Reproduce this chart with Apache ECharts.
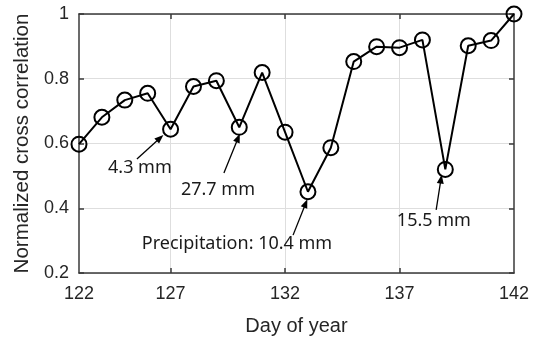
<!DOCTYPE html>
<html>
<head>
<meta charset="utf-8">
<script src="https://cdn.jsdelivr.net/npm/echarts@6/dist/echarts.min.js"></script>
<style>
  html, body { margin: 0; padding: 0; background: #fff; }
  #chart { width: 535px; height: 341px; }
</style>
</head>
<body>
<div id="chart"></div>
<script>
// Daily normalized cross correlation, day of year 123-142
const days = [123, 124, 125, 126, 127, 128, 129, 130, 131, 132,
              133, 134, 135, 136, 137, 138, 139, 140, 141, 142];
const correlation = [0.598, 0.681, 0.734, 0.755, 0.644, 0.776, 0.794, 0.650, 0.819, 0.635,
                     0.451, 0.587, 0.853, 0.899, 0.896, 0.920, 0.520, 0.902, 0.918, 1.0];

// x axis tick positions and their printed labels
const xLabelValues = [123, 127, 132, 137, 142];
const xLabelTexts = ['122', '127', '132', '137', '142'];
const xInnerTicks = [127, 132, 137];

// y axis
const yMin = 0.2, yMax = 1, yStep = 0.2;

// rain events marked on the curve
const noteDays = [127, 130, 133, 139];
const noteTexts = ['4.3 mm', '27.7 mm', 'Precipitation: 10.4 mm', '15.5 mm'];
// arrow tail, arrow head and text centre, as offsets from the marked point (days, correlation)
const noteLayout = [
  { tail: [-1.47, -0.092], head: [-0.46, -0.027], text: [-1.34, -0.120] },
  { tail: [-0.67, -0.141], head: [-0.05, -0.033], text: [-0.93, -0.194] },
  { tail: [-0.65, -0.134], head: [-0.10, -0.036], text: [-3.10, -0.161] },
  { tail: [-0.40, -0.125], head: [-0.19, -0.030], text: [-0.50, -0.159] }
];

const axisColor = '#3a3a3a';
const gridColor = '#dedede';
const tickFont = 'Liberation Sans, Arial, sans-serif';

const seriesData = days.map((d, i) => [d, correlation[i]]);

const arrows = noteDays.map((d, i) => {
  const v = correlation[days.indexOf(d)];
  const L = noteLayout[i];
  return [
    { coord: [d + L.tail[0], v + L.tail[1]] },
    { coord: [d + L.head[0], v + L.head[1]] }
  ];
});

const notes = noteDays.map((d, i) => {
  const v = correlation[days.indexOf(d)];
  const L = noteLayout[i];
  return { coord: [d + L.text[0], v + L.text[1]], value: noteTexts[i] };
});

const chart = echarts.init(document.getElementById('chart'), null, { renderer: 'canvas' });

chart.setOption({
  animation: false,
  backgroundColor: '#ffffff',
  grid: { left: 79, right: 21, top: 14, bottom: 68, containLabel: false, outerBoundsMode: 'none' },
  xAxis: [
    {
      type: 'value', min: days[0], max: days[days.length - 1],
      name: 'Day of year', nameLocation: 'middle', nameGap: 43,
      nameTextStyle: { fontFamily: tickFont, fontSize: 20, color: '#262626' },
      axisLine: { show: true, onZero: false, lineStyle: { color: axisColor, width: 1.5 } },
      axisTick: { show: true, inside: true, length: 5, customValues: xInnerTicks,
                  lineStyle: { color: axisColor, width: 1.5 } },
      axisLabel: {
        customValues: xLabelValues, margin: 12,
        fontFamily: tickFont, fontSize: 18, color: '#262626',
        formatter: v => xLabelTexts[xLabelValues.indexOf(v)]
      },
      splitLine: { show: true, lineStyle: { color: gridColor, width: 1 } }
    },
    {
      type: 'value', position: 'top', min: days[0], max: days[days.length - 1],
      axisLine: { show: true, onZero: false, lineStyle: { color: axisColor, width: 1.5 } },
      axisTick: { show: true, inside: true, length: 5, customValues: xInnerTicks,
                  lineStyle: { color: axisColor, width: 1.5 } },
      axisLabel: { show: false },
      splitLine: { show: false }
    }
  ],
  yAxis: [
    {
      type: 'value', min: yMin, max: yMax, interval: yStep,
      name: 'Normalized cross correlation', nameLocation: 'middle', nameGap: 45,
      nameTextStyle: { fontFamily: tickFont, fontSize: 20.5, color: '#262626' },
      axisLine: { show: true, onZero: false, lineStyle: { color: axisColor, width: 1.5 } },
      axisTick: { show: true, inside: true, length: 5, lineStyle: { color: axisColor, width: 1.5 } },
      axisLabel: { margin: 10, fontFamily: tickFont, fontSize: 18, color: '#262626',
                   formatter: v => (Math.abs(v - 1) < 1e-9 ? '1' : v.toFixed(1)) },
      splitLine: { show: true, lineStyle: { color: gridColor, width: 1 } }
    },
    {
      type: 'value', position: 'right', min: yMin, max: yMax, interval: yStep,
      axisLine: { show: true, onZero: false, lineStyle: { color: axisColor, width: 1.5 } },
      axisTick: { show: true, inside: true, length: 5, lineStyle: { color: axisColor, width: 1.5 } },
      axisLabel: { show: false },
      splitLine: { show: false }
    }
  ],
  series: [
    {
      type: 'line',
      data: seriesData,
      clip: false,
      symbol: 'circle',
      symbolSize: 15,
      z: 5,
      lineStyle: { color: '#000', width: 2 },
      itemStyle: { color: 'rgba(0,0,0,0)', borderColor: '#000', borderWidth: 2 },
      markLine: {
        silent: true,
        symbol: ['none', 'triangle'],
        symbolSize: [7, 9],
        label: { show: false },
        lineStyle: { color: '#000', width: 1.3, type: 'solid' },
        data: arrows
      },
      markPoint: {
        silent: true,
        symbol: 'circle',
        symbolSize: 1,
        itemStyle: { color: 'rgba(0,0,0,0)' },
        label: {
          show: true, position: 'inside',
          fontFamily: 'Noto Sans, sans-serif', fontSize: 18, color: '#1a1a1a',
          formatter: p => p.value
        },
        data: notes
      }
    }
  ]
});
</script>
</body>
</html>
